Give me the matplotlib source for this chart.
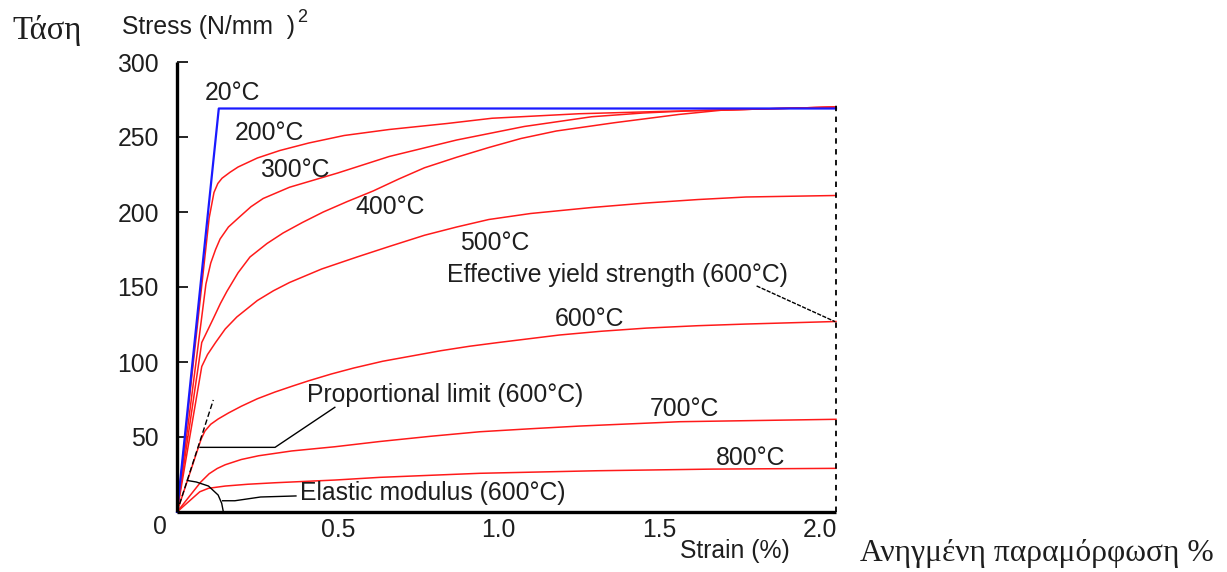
import matplotlib
matplotlib.use('Agg')
from matplotlib import pyplot as plt

# strain in %, stress in N/mm2
strain_20 = [0, 0.13, 2.05]
stress_20 = [0, 269, 269]

strain_200 = [0, 0.1, 0.115, 0.127, 0.14, 0.165, 0.19, 0.25, 0.32, 0.41, 0.52, 0.66, 0.84, 0.98, 1.25, 1.5, 1.7, 2.05]
stress_200 = [0, 196, 213, 219, 222.5, 226.5, 230, 236, 241, 246, 251, 255, 259, 262.5, 265.5, 267, 268, 270]

strain_300 = [0, 0.09, 0.105, 0.12, 0.134, 0.16, 0.196, 0.23, 0.268, 0.35, 0.5, 0.66, 0.87, 1.08, 1.29, 1.45, 1.6, 1.7, 2.05]
stress_300 = [0, 152, 166, 175, 182, 190, 197, 203.5, 209, 216.5, 226, 237, 248, 257, 263.5, 266, 267.5, 268, 270]

strain_400 = [0, 0.077, 0.095, 0.113, 0.135, 0.155, 0.19, 0.227, 0.28, 0.33, 0.39, 0.455, 0.53, 0.61, 0.69, 0.77, 0.87, 0.97, 1.07, 1.18, 1.36, 1.56, 1.7, 2.05]
stress_400 = [0, 113, 121, 129, 139, 147, 159.5, 170, 179, 186, 193, 200, 207, 214, 222, 229.5, 236.5, 243, 249, 254, 259.5, 265, 268, 270]

strain_500 = [0, 0.077, 0.095, 0.12, 0.15, 0.186, 0.25, 0.3, 0.35, 0.45, 0.56, 0.66, 0.77, 0.87, 0.97, 1.1, 1.29, 1.46, 1.62, 1.77, 2.05]
stress_500 = [0, 97, 105, 113, 122, 130, 141, 147.5, 153, 162, 170, 177, 184.5, 190, 195, 199, 203, 206, 208.3, 210, 211]

strain_600 = [0, 0.075, 0.087, 0.105, 0.128, 0.16, 0.2, 0.25, 0.305, 0.36, 0.41, 0.48, 0.55, 0.64, 0.73, 0.82, 0.91, 1.0, 1.19, 1.32, 1.46, 1.62, 1.77, 2.05]
stress_600 = [0, 48.6, 54, 58.5, 62, 66, 70.5, 75.5, 80, 84, 87.5, 92, 96, 100.5, 104, 107.5, 110.5, 113, 118, 120.5, 122.6, 124.2, 125.3, 127]

strain_700 = [0, 0.074, 0.1, 0.125, 0.15, 0.2, 0.254, 0.357, 0.491, 0.631, 0.79, 0.942, 1.1, 1.253, 1.565, 2.05]
stress_700 = [0, 20, 25.5, 29, 31.5, 35, 37.5, 40.7, 43.5, 47, 50.5, 53.5, 55.5, 57.3, 60.2, 61.8]

strain_800 = [0, 0.071, 0.098, 0.15, 0.22, 0.305, 0.491, 0.631, 0.942, 1.305, 1.667, 2.05]
stress_800 = [0, 13.5, 15.8, 17.3, 18.5, 19.5, 21.3, 23.1, 25.8, 27.5, 28.6, 29.1]

red_curves = [
    (strain_200, stress_200), (strain_300, stress_300), (strain_400, stress_400),
    (strain_500, stress_500), (strain_600, stress_600), (strain_700, stress_700),
    (strain_800, stress_800),
]

# curve labels: text, strain, stress
curve_labels = [
    ('20°C', 0.087, 279), ('200°C', 0.18, 253), ('300°C', 0.258, 228),
    ('400°C', 0.554, 203), ('500°C', 0.88, 179), ('600°C', 1.176, 129),
    ('700°C', 1.47, 68.5), ('800°C', 1.677, 36),
]

# construction lines for the 600°C curve
tangent_strain = [0, 0.113]
tangent_stress = [0, 74.7]
prop_strain = [0.0715, 0.305, 0.491]
prop_stress = [43.1, 43.1, 69.8]
arc_strain = [0.032, 0.06, 0.098, 0.128, 0.139, 0.144]
arc_stress = [21, 20, 17.3, 11.3, 5.8, 0.3]
elastic_strain = [0.142, 0.18, 0.26, 0.37]
elastic_stress = [7.5, 7.5, 10, 10.7]
eff_strain = [1.803, 2.047]
eff_stress = [150.7, 126.9]

x_max = 2.05
xticks = [0.5, 1.0, 1.5, 2.0]
yticks = [50, 100, 150, 200, 250, 300]

W, H = 1227, 572
sans = 'Liberation Sans'
serif = 'Liberation Serif'
fs = 17.8
ink = '#1e1e1e'

fig = plt.figure(figsize=(W / 100, H / 100), dpi=100)
ax = fig.add_axes([177 / W, 1 - 512 / H, (836 - 177) / W, (512 - 62) / H])

for s, v in red_curves:
    ax.plot(s, v, color='#ff1a1a', lw=1.1, clip_on=False, solid_joinstyle='round')
ax.plot(strain_20, stress_20, color='#1a1aff', lw=1.6, clip_on=False)

ax.plot(tangent_strain, tangent_stress, color='black', lw=1.0, ls=(0, (4, 2)))
ax.plot(prop_strain, prop_stress, color='black', lw=1.0)
ax.plot(arc_strain, arc_stress, color='black', lw=1.0)
ax.plot(elastic_strain, elastic_stress, color='black', lw=1.0)
ax.plot(eff_strain, eff_stress, color='black', lw=1.0, ls=(0, (3, 1)))
ax.plot([x_max, x_max], [0, 274], color='black', lw=1.3, ls=(0, (3, 3)), clip_on=False)

for txt, s, v in curve_labels:
    ax.text(s, v, txt, fontsize=fs, family=sans, color=ink, va='center', ha='left')

ax.text(0.404, 78, 'Proportional limit (600°C)', fontsize=fs, family=sans, color=ink, va='center')
ax.text(0.383, 12.5, 'Elastic modulus (600°C)', fontsize=fs, family=sans, color=ink, va='center')
ax.text(0.84, 158, 'Effective yield strength (600°C)', fontsize=fs, family=sans, color=ink, va='center')

ax.set_xlim(0, x_max)
ax.set_ylim(0, 300)
ax.set_xticks(xticks)
ax.set_xticklabels([f'{t:.1f}' for t in xticks], family=sans, fontsize=fs, color=ink)
ax.set_yticks(yticks)
ax.set_yticklabels([str(t) for t in yticks], family=sans, fontsize=fs, color=ink)
ax.tick_params(axis='y', direction='in', length=8, width=1.2, pad=13)
ax.tick_params(axis='x', length=0, pad=4)

for side in ['top', 'right']:
    ax.spines[side].set_visible(False)
for side in ['left', 'bottom']:
    ax.spines[side].set_linewidth(2.4)
    ax.spines[side].set_capstyle('butt')


def ftext(x, y, txt, **kw):
    fig.text(x / W, 1 - y / H, txt, **kw)


ftext(160, 527, '0', fontsize=fs, family=sans, color=ink, ha='center', va='center')
ftext(122, 27, 'Stress (N/mm  )', fontsize=fs, family=sans, color=ink, ha='left', va='center')
ftext(297, 18, '2', fontsize=13, family=sans, color=ink, ha='left', va='center')
ftext(735, 551, 'Strain (%)', fontsize=fs, family=sans, color=ink, ha='center', va='center')
ftext(12, 30, 'Τάση', fontsize=23.5, family=serif, color=ink, ha='left', va='center')
ftext(860, 553, 'Ανηγμένη παραμόρφωση %', fontsize=22.7, family=serif, color=ink, ha='left', va='center')

fig.savefig('out.png', dpi=100)
